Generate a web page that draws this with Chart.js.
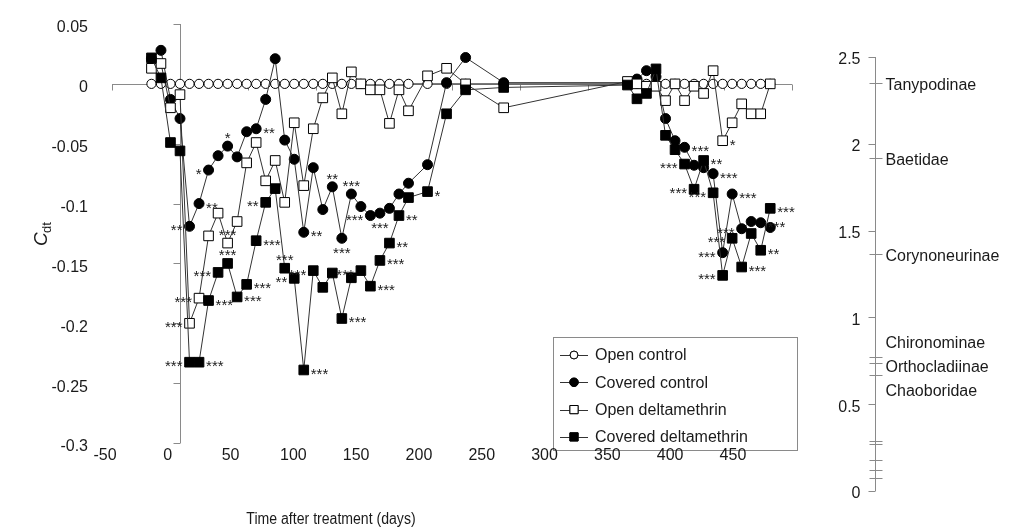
<!DOCTYPE html>
<html>
<head>
<meta charset="utf-8">
<script src="https://cdn.jsdelivr.net/npm/chart.js@4.4.1/dist/chart.umd.min.js"></script>
<style>
  html, body { margin: 0; padding: 0; background: #fff; }
  #wrap { width: 1028px; height: 531px; }
</style>
</head>
<body>
<div id="wrap"><canvas id="prc" width="1028" height="531"></canvas></div>
<script>
// sampling days (time after treatment)
const days = [-21, -14, -7, 0, 7, 14, 21, 28, 35, 42, 49, 56, 63, 70, 77, 84, 91, 98, 105, 112,
  119, 126, 133, 140, 147, 154, 161, 168, 182, 196, 210, 238,
  329, 336, 343, 350, 357, 364, 371, 378, 385, 392, 399, 406, 413, 420, 427, 434];

// principal response (Cdt) per treatment
const openControl = days.map(() => 0);
const coveredControl = [0.021, 0.028, -0.013, -0.029, -0.119, -0.1, -0.072, -0.06, -0.052, -0.061,
  -0.04, -0.0375, -0.013, 0.021, -0.047, -0.063, -0.124, -0.07, -0.105, -0.086,
  -0.129, -0.092, -0.1025, -0.11, -0.108, -0.104, -0.092, -0.083, -0.0675, 0.001, 0.022, 0.001,
  0.001, 0.004, 0.011, 0.006, -0.029, -0.0475, -0.053, -0.068, -0.07, -0.075, -0.141, -0.092,
  -0.121, -0.115, -0.116, -0.12];
const openDelta = [0.013, 0.017, -0.02, -0.009, -0.2, -0.179, -0.127, -0.108, -0.133, -0.115,
  -0.066, -0.049, -0.081, -0.064, -0.099, -0.0325, -0.085, -0.0375, -0.0117, 0.005,
  -0.025, 0.01, 0, -0.005, -0.005, -0.033, -0.005, -0.0225, 0.0067, 0.013, 0, -0.02,
  0.002, 0, -0.002, -0.002, -0.014, 0, -0.014, -0.002, -0.008, 0.011, -0.0475, -0.0325,
  -0.0167, -0.025, -0.025, 0];
const coveredDelta = [0.0217, 0.005, -0.049, -0.056, -0.2325, -0.2325, -0.181, -0.1575, -0.15, -0.178,
  -0.1675, -0.131, -0.099, -0.0875, -0.154, -0.1625, -0.239, -0.156, -0.17, -0.158,
  -0.196, -0.162, -0.156, -0.169, -0.1475, -0.133, -0.11, -0.095, -0.09, -0.025, -0.005, -0.003,
  -0.001, -0.0125, -0.008, 0.0125, -0.043, -0.055, -0.067, -0.088, -0.064, -0.091, -0.16, -0.129,
  -0.153, -0.125, -0.139, -0.104];

const seriesNames = ["Open control", "Covered control", "Open deltamethrin", "Covered deltamethrin"];

const xTicks = [-50, 0, 50, 100, 150, 200, 250, 300, 350, 400, 450];
const yTicks = [0.05, 0, -0.05, -0.1, -0.15, -0.2, -0.25, -0.3];
const bTicks = [0, 0.5, 1, 1.5, 2, 2.5];

// species weights (bk) on the right axis
const taxa = ["Tanypodinae", "Baetidae", "Corynoneurinae", "Chironominae", "Orthocladiinae", "Chaoboridae"];
const taxaWeights = [2.35, 1.92, 1.365, 0.77, 0.74, 0.67];
const otherWeights = [0.29, 0.27, 0.18, 0.12, 0.075];

// significance marks: [series, day, text, side]
const stars = [
  [1, 7, "**", "l"], [1, 14, "**", "r"], [1, 21, "*", "l"], [1, 35, "*", "a"], [1, 56, "**", "r"],
  [1, 91, "**", "r"], [1, 112, "**", "a"], [1, 126, "***", "a"], [1, 140, "***", "l"],
  [1, 119, "***", "b"], [1, 147, "***", "b"],
  [2, 7, "***", "l"], [2, 14, "***", "l"], [2, 35, "***", "a"],
  [3, 7, "***", "l"], [3, 14, "***", "r"], [3, 21, "***", "r"], [3, 28, "***", "l"], [3, 35, "***", "a"],
  [3, 42, "***", "r"], [3, 49, "***", "r"], [3, 56, "***", "r"], [3, 63, "**", "l"], [3, 77, "***", "a"],
  [3, 84, "**", "l"], [3, 91, "***", "r"], [3, 98, "***", "l"], [3, 119, "***", "r"], [3, 133, "***", "l"],
  [3, 140, "***", "r"], [3, 147, "***", "r"], [3, 154, "**", "r"], [3, 161, "**", "r"], [3, 182, "*", "r"],
  [1, 371, "***", "r"], [2, 399, "*", "r"], [3, 385, "**", "r"], [3, 371, "***", "l"], [3, 378, "***", "l"],
  [1, 392, "***", "r"], [1, 406, "***", "r"], [3, 392, "***", "l"], [1, 413, "***", "l"], [3, 434, "***", "r"],
  [1, 427, "***", "r"], [3, 406, "***", "l"], [1, 399, "***", "l"], [3, 413, "***", "r"], [3, 399, "***", "l"],
  [3, 427, "**", "r"]
];

const FONT = "Liberation Sans, Arial, sans-serif";
const INK = "#1a1a1a";
const AXIS = "#8a8a8a";

const toPoints = (vals) => days.map((d, i) => ({ x: d, y: vals[i] }));

function makeSet(label, vals, style, radius, fill) {
  return {
    label: label,
    data: toPoints(vals),
    showLine: true,
    borderColor: "#333",
    borderWidth: 1,
    pointStyle: style,
    pointRadius: radius,
    pointBorderColor: "#000",
    pointBackgroundColor: fill,
    pointBorderWidth: 1,
    clip: false,
  };
}

const datasets = [
  makeSet(seriesNames[0], openControl, "circle", 4.6, "#fff"),
  makeSet(seriesNames[1], coveredControl, "circle", 5, "#000"),
  makeSet(seriesNames[2], openDelta, "rect", 6.8, "#fff"),
  makeSet(seriesNames[3], coveredDelta, "rect", 6.8, "#000"),
];
datasets.forEach((ds, i) => { ds.order = datasets.length - i; });

function crisp(v) { return Math.round(v) + 0.5; }

const axesPlugin = {
  id: "prcAxes",
  beforeDatasetsDraw(chart) {
    const { ctx } = chart;
    const xs = chart.scales.x, ys = chart.scales.y, yb = chart.scales.yb;
    ctx.save();
    ctx.strokeStyle = AXIS;
    ctx.lineWidth = 1;

    // horizontal axis through Cdt = 0
    const y0 = crisp(ys.getPixelForValue(0));
    ctx.beginPath();
    ctx.moveTo(xs.getPixelForValue(-50), y0);
    ctx.lineTo(xs.getPixelForValue(450), y0);
    xTicks.forEach((v) => {
      const px = crisp(xs.getPixelForValue(v));
      ctx.moveTo(px, y0);
      ctx.lineTo(px, y0 + 6);
    });
    ctx.stroke();

    // vertical axis at day 0
    const xa = crisp(xs.getPixelForValue(0));
    ctx.beginPath();
    ctx.moveTo(xa, ys.getPixelForValue(0.05));
    ctx.lineTo(xa, ys.getPixelForValue(-0.3));
    yTicks.forEach((v) => {
      const py = crisp(ys.getPixelForValue(v));
      ctx.moveTo(xa, py);
      ctx.lineTo(xa - 7, py);
    });
    ctx.stroke();

    // right axis with species weights
    const xr = crisp(chart.chartArea.right + 83);
    ctx.beginPath();
    ctx.moveTo(xr, yb.getPixelForValue(2.5));
    ctx.lineTo(xr, yb.getPixelForValue(0));
    bTicks.forEach((v) => {
      const py = crisp(yb.getPixelForValue(v));
      ctx.moveTo(xr, py);
      ctx.lineTo(xr - 7, py);
    });
    taxaWeights.concat(otherWeights).forEach((v) => {
      const py = crisp(yb.getPixelForValue(v));
      ctx.moveTo(xr - 6, py);
      ctx.lineTo(xr + 7, py);
    });
    ctx.stroke();

    // tick labels
    ctx.fillStyle = INK;
    ctx.font = "16px " + FONT;
    ctx.textBaseline = "middle";
    ctx.textAlign = "right";
    yTicks.forEach((v) => {
      ctx.fillText(String(v), 88, ys.getPixelForValue(v) + 4);
    });
    bTicks.forEach((v) => {
      ctx.fillText(String(v), xr - 15, yb.getPixelForValue(v) + 3);
    });

    // taxa labels, spread apart where they crowd
    const ty = taxaWeights.map((w) => yb.getPixelForValue(w));
    const groups = [];
    ty.forEach((p, i) => {
      const g = groups[groups.length - 1];
      if (g && p - ty[g[g.length - 1]] < 22) g.push(i); else groups.push([i]);
    });
    ctx.textAlign = "left";
    groups.forEach((g) => {
      const mean = g.reduce((s, i) => s + ty[i], 0) / g.length;
      g.forEach((i, k) => {
        const py = g.length > 1 ? mean + (k - (g.length - 1) / 2) * 24 : ty[i];
        ctx.fillText(taxa[i], xr + 10, py + 3);
      });
    });

    // axis titles
    ctx.save();
    ctx.translate(331, 520);
    ctx.scale(0.88, 1);
    ctx.textAlign = "center";
    ctx.font = "16px " + FONT;
    ctx.fillText("Time after treatment (days)", 0, 0);
    ctx.restore();
    ctx.save();
    ctx.translate(42, 236);
    ctx.rotate(-Math.PI / 2);
    ctx.textAlign = "left";
    ctx.font = "italic 19px " + FONT;
    ctx.fillText("C", -10, 0);
    ctx.font = "13px " + FONT;
    ctx.fillText("dt", 3, 5);
    ctx.restore();
    ctx.restore();
  },
  afterDatasetsDraw(chart) {
    const { ctx } = chart;
    const xs = chart.scales.x, ys = chart.scales.y, xl = chart.scales.xl;
    ctx.save();
    ctx.fillStyle = INK;
    ctx.font = "15px " + FONT;
    ctx.textBaseline = "alphabetic";
    stars.forEach(([s, d, txt, side]) => {
      const i = days.indexOf(d);
      const v = chart.data.datasets[s].data[i];
      if (i < 0 || v.y == null) return;
      const px = xs.getPixelForValue(v.x), py = ys.getPixelForValue(v.y);
      if (side === "r") { ctx.textAlign = "left"; ctx.fillText(txt, px + 7, py + 9); }
      else if (side === "l") { ctx.textAlign = "right"; ctx.fillText(txt, px - 7, py + 9); }
      else if (side === "a") { ctx.textAlign = "center"; ctx.fillText(txt, px, py - 3); }
      else { ctx.textAlign = "center"; ctx.fillText(txt, px, py + 20); }
    });

    // legend box
    const lx = 553, ly = 337, lw = 244, lh = 113;
    ctx.fillStyle = "#fff";
    ctx.fillRect(lx, ly, lw, lh);
    ctx.strokeStyle = AXIS;
    ctx.lineWidth = 1;
    ctx.strokeRect(lx + 0.5, ly + 0.5, lw, lh);
    chart.data.datasets.forEach((ds, i) => {
      const cy = ly + 18 + i * 27.3;
      ctx.strokeStyle = "#333";
      ctx.beginPath();
      ctx.moveTo(lx + 7, Math.round(cy) + 0.5);
      ctx.lineTo(lx + 35, Math.round(cy) + 0.5);
      ctx.stroke();
      Chart.helpers.drawPoint(ctx, {
        pointStyle: ds.pointStyle,
        radius: ds.pointRadius * 0.85,
        borderWidth: 1,
      }, lx + 21, cy);
      ctx.fillStyle = ds.pointBackgroundColor;
      ctx.strokeStyle = "#000";
      ctx.fill();
      ctx.stroke();
      ctx.fillStyle = INK;
      ctx.font = "16px " + FONT;
      ctx.textAlign = "left";
      ctx.textBaseline = "middle";
      ctx.fillText(ds.label, lx + 42, cy + 1);
    });

    // time axis labels sit on top of the legend frame
    ctx.fillStyle = INK;
    ctx.font = "16px " + FONT;
    ctx.textAlign = "center";
    ctx.textBaseline = "middle";
    const yLab = ys.getPixelForValue(-0.3) + 13;
    xTicks.forEach((v) => {
      ctx.fillText(String(v), xl.getPixelForValue(v), yLab);
    });
    ctx.restore();
  },
};

new Chart(document.getElementById("prc"), {
  type: "scatter",
  data: { datasets: datasets },
  options: {
    responsive: false,
    animation: false,
    layout: { padding: { left: 112, right: 236, top: 24, bottom: 88 } },
    plugins: { legend: { display: false }, tooltip: { enabled: false } },
    scales: {
      x: { type: "linear", min: -50, max: 450, display: false },
      y: { type: "linear", min: -0.3, max: 0.05, display: false },
      // label row of the time axis
      xl: { type: "linear", axis: "x", min: -44.4, max: 497, display: false },
      // species weight axis (0 at 491px, 2.5 at 57px)
      yb: { type: "linear", axis: "y", min: 0.2765, max: 2.69, display: false },
    },
  },
  plugins: [axesPlugin],
});
</script>
</body>
</html>
